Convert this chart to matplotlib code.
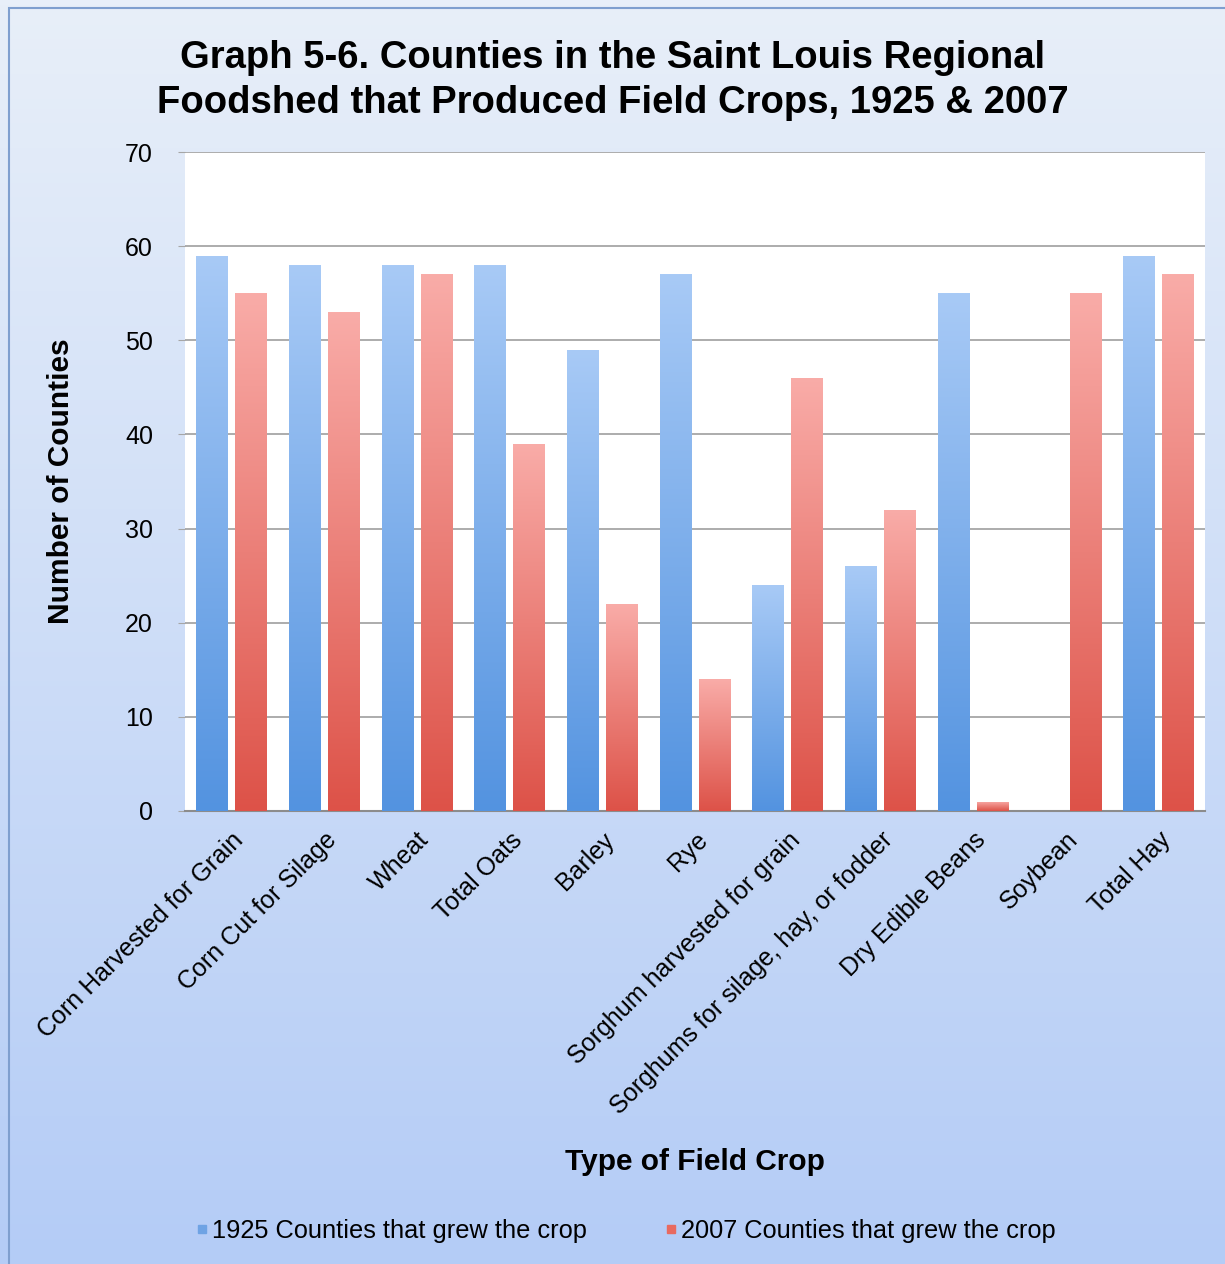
import numpy as np
import matplotlib
matplotlib.use('Agg')
import matplotlib.pyplot as plt
from matplotlib.colors import LinearSegmentedColormap
from matplotlib.lines import Line2D
from matplotlib.patches import Rectangle

plt.rcParams['font.family'] = ['Liberation Sans', 'DejaVu Sans']

crops = ['Corn Harvested for Grain', 'Corn Cut for Silage', 'Wheat', 'Total Oats',
         'Barley', 'Rye', 'Sorghum harvested for grain',
         'Sorghums for silage, hay, or fodder', 'Dry Edible Beans', 'Soybean',
         'Total Hay']
counties_1925 = [59, 58, 58, 58, 49, 57, 24, 26, 55, 0, 59]
counties_2007 = [55, 53, 57, 39, 22, 14, 46, 32, 1, 55, 57]
series_names = ['1925 Counties that grew the crop', '2007 Counties that grew the crop']

fig = plt.figure(figsize=(12.25, 12.64), dpi=100)

# background gradient for the whole chart area
bg = fig.add_axes([0, 0, 1, 1], zorder=-5)
bg_cmap = LinearSegmentedColormap.from_list('bg', ['#e8eff9', '#b4ccf6'])
bg.imshow(np.linspace(0, 1, 256).reshape(-1, 1), cmap=bg_cmap, aspect='auto',
          extent=[0, 1, 0, 1], origin='upper')
bg.set_xlim(0, 1)
bg.set_ylim(0, 1)
bg.axis('off')
bg.add_patch(Rectangle((0.007, -0.01), 1.2, 1.004, fill=False,
                       edgecolor='#7f9fcf', linewidth=1.5))

ax = fig.add_axes([0.151, 0.3584, 0.8327, 0.5213])
ax.set_facecolor('white')

x = np.arange(len(crops))
w = 0.34
off = 0.21
blue_cmap = LinearSegmentedColormap.from_list('b', ['#a8caf6', '#5393e0'])
red_cmap = LinearSegmentedColormap.from_list('r', ['#f9aca8', '#dd5248'])

grad = np.linspace(0, 1, 256).reshape(-1, 1)
for vals, dx, cmap in [(counties_1925, -off, blue_cmap), (counties_2007, off, red_cmap)]:
    bars = ax.bar(x + dx, vals, width=w, color='none', edgecolor='none', zorder=3)
    for b in bars:
        h = b.get_height()
        if h <= 0:
            continue
        im = ax.imshow(grad, cmap=cmap, aspect='auto', origin='upper', zorder=3,
                       extent=[b.get_x(), b.get_x() + b.get_width(), 0, h])
        im.set_clip_path(b)

ax.set_xlim(-0.5, len(crops) - 0.5)
ax.set_ylim(0, 70)
ax.set_yticks(range(0, 71, 10))
ax.yaxis.grid(True, color='#a6a6a6', linewidth=1.3, zorder=0)
ax.set_axisbelow(True)
for s in ['top', 'right', 'left']:
    ax.spines[s].set_visible(False)
ax.spines['bottom'].set_color('#8c8c8c')
ax.spines['bottom'].set_linewidth(1.5)
ax.tick_params(axis='y', length=5, color='#a6a6a6', labelsize=18, pad=18)
ax.tick_params(axis='x', length=0, labelsize=18, pad=12)
ax.set_xticks(x)
ax.set_xticklabels(crops, rotation=45, ha='right', va='top', rotation_mode='anchor')

ax.set_ylabel('Number of Counties', fontsize=21.5, fontweight='bold', labelpad=36)
ax.set_xlabel('Type of Field Crop', fontsize=21.5, fontweight='bold')
ax.xaxis.set_label_coords(0.5, -0.512)

fig.suptitle('Graph 5-6. Counties in the Saint Louis Regional\nFoodshed that Produced Field Crops, 1925 & 2007',
             fontsize=27.5, fontweight='bold', y=0.968, linespacing=1.32)

handles = [Line2D([], [], marker='s', linestyle='none', markersize=6, color='#6fa3e4'),
           Line2D([], [], marker='s', linestyle='none', markersize=6, color='#e86a60')]
fig.legend(handles, series_names, loc='center', bbox_to_anchor=(0.51, 0.026), ncol=2,
           frameon=False, fontsize=18.3, handletextpad=0.1, columnspacing=3.0,
           handlelength=0.6)

fig.savefig('out.png', dpi=100)
